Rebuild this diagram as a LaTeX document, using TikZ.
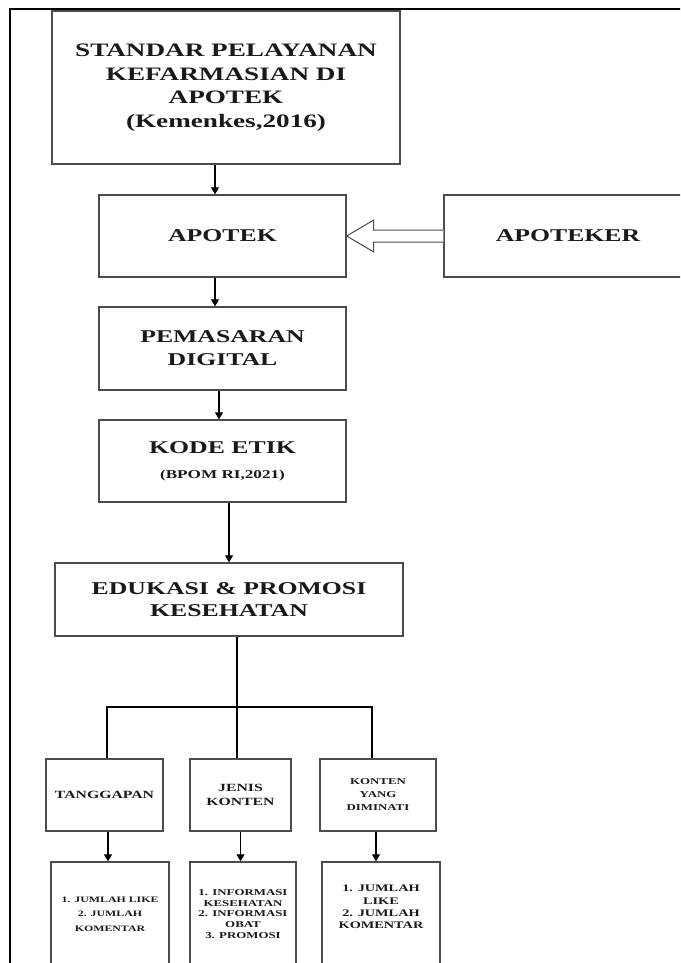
\documentclass[tikz,border=0pt]{standalone}
\usepackage{fontspec}
\setmainfont[FakeStretch=1.43]{Liberation Serif}
\usetikzlibrary{arrows.meta,calc}

\begin{document}
\begin{tikzpicture}[x=1pt,y=-1pt,
	kotak/.style={draw=black!70,line width=1.4pt,inner sep=0pt,align=center,text=black!90},
	besar/.style={kotak,font=\bfseries\fontsize{18}{23}\selectfont},
	panah/.style={-{Triangle[length=7pt,width=8pt]},line width=1.2pt},
	garis/.style={line width=1.2pt},
	lebar/.style={draw=black!70,line width=1pt,fill=white}]
	\useasboundingbox (0,0) rectangle (680,963);
	\clip (0,0) rectangle (680,963);
	% bingkai
	\draw[line width=2.2pt] (10,990) -- (10,9) -- (690,9);
	
	\node[besar,minimum width=348pt,minimum height=153pt,font=\bfseries\fontsize{19}{23.5}\selectfont] (std) at (226,87.5) {STANDAR PELAYANAN\\KEFARMASIAN DI\\APOTEK\\(Kemenkes,2016)};
	\node[besar,minimum width=247pt,minimum height=82pt] (apt) at (222.5,236) {APOTEK};
	\node[besar,minimum width=248pt,minimum height=82pt] (apk) at (568,236) {APOTEKER};
	\node[besar,minimum width=247pt,minimum height=83pt] (pms) at (222.5,348.5) {PEMASARAN\\DIGITAL};
	\node[besar,minimum width=247pt,minimum height=82pt] (kode) at (222.5,461) {KODE ETIK\\[2pt]{\fontsize{12}{14}\selectfont (BPOM RI,2021)}};
	\node[besar,minimum width=348pt,minimum height=73pt,font=\bfseries\fontsize{18}{22}\selectfont] (edu) at (229,599.5) {EDUKASI \& PROMOSI\\KESEHATAN};
	
	\draw[panah] ([xshift=-7.5pt]apt.north |- std.south) -- ([xshift=-7.5pt]apt.north);
	\draw[panah] ([xshift=-7.5pt]apt.south) -- ([xshift=-7.5pt]pms.north);
	\draw[panah] ([xshift=-3.5pt]pms.south) -- ([xshift=-3.5pt]kode.north);
	\draw[panah] (kode.south -| edu) -- (edu.north);
	
	% panah besar apoteker
	\draw[lebar] ($(apk.west)+(0,-6)$) -- ($(apt.east)+(27,-6)$) -- ($(apt.east)+(27,-16)$) -- (apt.east)
		-- ($(apt.east)+(27,16)$) -- ($(apt.east)+(27,6)$) -- ($(apk.west)+(0,6)$);
	
	\node[kotak,minimum width=117pt,minimum height=72pt,font=\bfseries\fontsize{11}{13.5}\selectfont] (tgp) at (104.5,795) {TANGGAPAN};
	\node[kotak,minimum width=101pt,minimum height=72pt,font=\bfseries\fontsize{11}{13.5}\selectfont] (jns) at (240.5,795) {JENIS\\KONTEN};
	\node[kotak,minimum width=116pt,minimum height=72pt,font=\bfseries\fontsize{9}{13}\selectfont] (knt) at (378,795) {KONTEN\\YANG\\DIMINATI};
	
	\coordinate (cab) at ([xshift=8pt]edu.south |- 0,707);
	\draw[garis] ([xshift=8pt]edu.south) -- (cab);
	\draw[garis] ([xshift=2.5pt]tgp.north) |- (cab) -| ([xshift=-6pt]knt.north);
	\draw[garis] (cab) -- (cab |- jns.north);
	
	\node[kotak,minimum width=118pt,minimum height=104pt,font=\bfseries\fontsize{8.3}{14.5}\selectfont] (h1) at (110,914) {1. JUMLAH LIKE\\2. JUMLAH\\KOMENTAR};
	\node[kotak,minimum width=106pt,minimum height=104pt,font=\bfseries\fontsize{9}{10.7}\selectfont] (h2) at (243,914) {1. INFORMASI\\KESEHATAN\\2. INFORMASI\\OBAT\\3. PROMOSI};
	\node[kotak,minimum width=118pt,minimum height=104pt,font=\bfseries\fontsize{10}{12.3}\selectfont] (h3) at (381,914) {1. JUMLAH\\LIKE\\2. JUMLAH\\KOMENTAR\\[1.7pt]\mbox{}};
	
	\draw[panah] ([xshift=3.5pt]tgp.south) -- ([xshift=3.5pt]tgp.south |- h1.north);
	\draw[panah] (jns.south) -- (jns.south |- h2.north);
	\draw[panah] ([xshift=-2pt]knt.south) -- ([xshift=-2pt]knt.south |- h3.north);
\end{tikzpicture}
\end{document}
